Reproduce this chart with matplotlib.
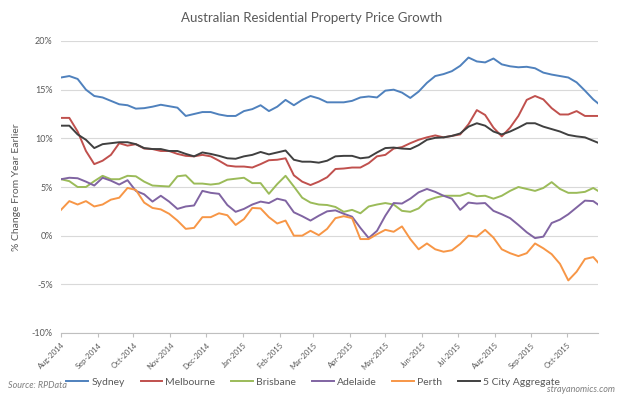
import matplotlib
matplotlib.use('Agg')
import matplotlib.pyplot as plt
import matplotlib.dates as mdates
import matplotlib.ticker as mticker
import pandas as pd

plt.rcParams['font.family'] = ['Lato', 'DejaVu Sans']

# Weekly observations (Aug 2014 - Oct 2015) plus the final reading
dates = list(pd.date_range('2014-08-01', periods=65, freq='7D')) + [pd.Timestamp('2015-10-27')]

sydney = [16.25, 16.4, 16.1, 15.0, 14.35, 14.2, 13.85, 13.5, 13.4, 13.05, 13.1, 13.25, 13.45, 13.3, 13.15, 12.3, 12.5,
          12.7, 12.7, 12.45, 12.3, 12.3, 12.8, 13.0, 13.4, 12.8, 13.25, 13.95, 13.4, 13.95, 14.35, 14.1, 13.7, 13.7,
          13.7, 13.85, 14.2, 14.3, 14.2, 14.9, 15.0, 14.7, 14.15, 14.8, 15.7, 16.4, 16.6, 16.9, 17.45, 18.3,
          17.9, 17.8, 18.2, 17.6, 17.4, 17.3, 17.35, 17.2, 16.75, 16.55, 16.4, 16.25, 15.75, 14.9, 14.0, 13.6]

melbourne = [12.1, 12.1, 10.7, 8.7, 7.35, 7.7, 8.3, 9.5, 9.25, 9.4, 8.95, 8.9, 8.7, 8.7, 8.4, 8.2, 8.15,
             8.3, 8.15, 7.7, 7.2, 7.1, 7.1, 7.0, 7.35, 7.75, 7.8, 7.95, 6.2, 5.55, 5.2, 5.55, 6.0, 6.85,
             6.9, 7.0, 7.0, 7.45, 8.15, 8.3, 8.95, 9.1, 9.5, 9.85, 10.1, 10.3, 10.1, 10.25, 10.4, 11.45,
             12.9, 12.4, 11.1, 10.2, 11.1, 12.3, 13.95, 14.35, 14.0, 13.1, 12.45, 12.45, 12.8, 12.3, 12.3, 12.3]

brisbane = [5.8, 5.6, 5.0, 5.0, 5.6, 6.15, 5.8, 5.8, 6.15, 6.1, 5.55, 5.15, 5.1, 5.05, 6.1, 6.2, 5.35,
            5.35, 5.25, 5.35, 5.75, 5.85, 5.95, 5.4, 5.4, 4.3, 5.3, 6.15, 5.05, 3.9, 3.4, 3.2, 3.15, 2.95,
            2.45, 2.65, 2.3, 3.0, 3.2, 3.35, 3.2, 2.55, 2.45, 2.8, 3.6, 3.9, 4.1, 4.1, 4.1, 4.4,
            4.05, 4.1, 3.8, 4.1, 4.6, 5.0, 4.8, 4.6, 4.9, 5.5, 4.8, 4.4, 4.4, 4.5, 4.9, 4.6]

adelaide = [5.8, 5.95, 5.9, 5.55, 5.15, 5.95, 5.65, 5.25, 5.7, 4.6, 4.25, 3.5, 4.1, 3.5, 2.75, 3.0, 3.1,
            4.6, 4.4, 4.3, 3.15, 2.45, 2.75, 3.2, 3.5, 3.35, 3.8, 3.6, 2.4, 2.0, 1.55, 2.05, 2.5, 2.6,
            2.25, 1.95, 0.8, -0.25, 0.5, 2.05, 3.35, 3.3, 3.8, 4.45, 4.8, 4.5, 4.1, 3.8, 2.65, 3.4,
            3.3, 3.35, 2.55, 2.2, 1.8, 1.1, 0.35, -0.25, -0.1, 1.3, 1.65, 2.2, 2.9, 3.6, 3.55, 3.2]

perth = [2.65, 3.55, 3.2, 3.55, 3.0, 3.2, 3.7, 3.9, 4.9, 4.7, 3.4, 2.85, 2.7, 2.25, 1.55, 0.7, 0.8,
         1.9, 1.9, 2.3, 2.1, 1.1, 1.7, 2.85, 2.8, 1.9, 1.25, 1.55, 0.0, 0.0, 0.5, 0.05, 0.7, 1.8,
         2.0, 1.8, -0.35, -0.35, 0.15, 0.6, 0.4, 0.95, -0.35, -1.4, -0.8, -1.4, -1.65, -1.5, -0.85, 0.0,
         -0.1, 0.6, -0.2, -1.4, -1.8, -2.1, -1.8, -0.8, -1.3, -1.9, -2.9, -4.6, -3.7, -2.4, -2.2, -2.75]

five_city = [11.3, 11.3, 10.4, 9.85, 9.0, 9.4, 9.5, 9.6, 9.6, 9.4, 9.0, 8.9, 8.9, 8.7, 8.7, 8.4, 8.15,
             8.55, 8.4, 8.2, 7.95, 7.9, 8.15, 8.3, 8.6, 8.35, 8.55, 8.75, 7.8, 7.6, 7.6, 7.5, 7.7, 8.15,
             8.2, 8.2, 7.95, 8.05, 8.55, 9.0, 9.05, 8.95, 8.9, 9.3, 9.85, 10.05, 10.1, 10.25, 10.5, 11.2,
             11.55, 11.3, 10.7, 10.4, 10.7, 11.1, 11.55, 11.55, 11.2, 10.95, 10.7, 10.35, 10.2, 10.1, 9.75, 9.55]

series_names = ['Sydney', 'Melbourne', 'Brisbane', 'Adelaide', 'Perth', '5 City Aggregate']
series_values = [sydney, melbourne, brisbane, adelaide, perth, five_city]
series_colors = ['#4F81BD', '#C0504D', '#9BBB59', '#8064A2', '#F79646', '#404040']

W, H = 624, 398
fig = plt.figure(figsize=(W / 100, H / 100), dpi=100)
ax = fig.add_axes([61 / W, 1 - 333 / H, (598 - 61) / W, (333 - 41) / H])

for name, vals, col in zip(series_names, series_values, series_colors):
    ax.plot(dates, vals, color=col, lw=1.4, label=name, solid_joinstyle='round')

ax.set_ylim(-10, 20)
ax.set_yticks(range(-10, 25, 5))
ax.yaxis.set_major_formatter(mticker.FuncFormatter(lambda v, p: f'{int(v)}%'))
ax.set_xlim(pd.Timestamp('2014-08-01'), pd.Timestamp('2015-10-27'))
ax.xaxis.set_major_locator(mdates.MonthLocator())
ax.xaxis.set_major_formatter(mdates.DateFormatter('%b-%Y'))

ax.grid(axis='y', color='#d9d9d9', lw=0.8)
ax.set_axisbelow(True)
for s in ['top', 'right', 'left']:
    ax.spines[s].set_visible(False)
ax.spines['bottom'].set_color('#bfbfbf')
ax.spines['bottom'].set_linewidth(0.8)

ax.tick_params(axis='y', length=0, labelsize=6.5, labelcolor='#595959', pad=6)
ax.tick_params(axis='x', length=3, color='#bfbfbf', labelsize=5.5, labelcolor='#595959', pad=3)
for lab in ax.get_xticklabels():
    lab.set_rotation(45)
    lab.set_ha('right')
    lab.set_va('top')
    lab.set_rotation_mode('anchor')

fig.text(312 / W, 1 - 18 / H, 'Australian Residential Property Price Growth',
         ha='center', va='center', fontsize=9.5, color='#595959')
fig.text(17 / W, 1 - 187 / H, '% Change From Year Earlier', rotation=90,
         ha='center', va='center', fontsize=7.5, color='#595959')
fig.text(8 / W, 1 - 386 / H, 'Source: RPData', ha='left', va='center',
         fontsize=6.5, style='italic', color='#7f7f7f')
fig.text(615 / W, 1 - 390 / H, 'strayanomics.com', ha='right', va='center',
         fontsize=6.5, style='italic', color='#7f7f7f')

fig.legend(loc='center', bbox_to_anchor=(313 / W, 1 - 382 / H), ncol=6, frameon=False,
           fontsize=7.5, handlelength=2.1, handletextpad=0.3, columnspacing=1.5,
           labelcolor='#595959')

fig.savefig('out.png', dpi=100)
